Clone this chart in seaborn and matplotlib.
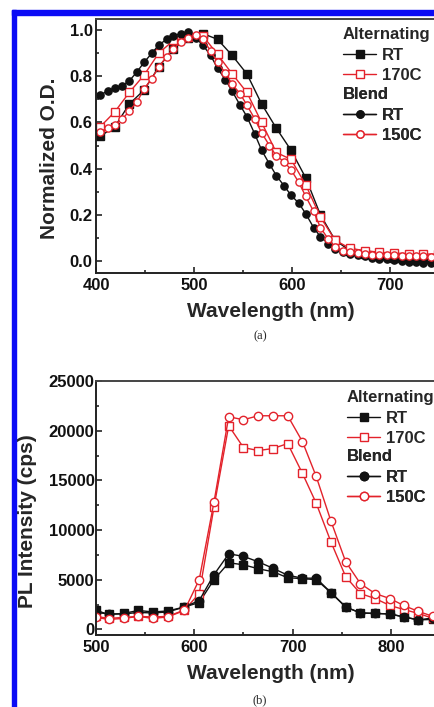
import numpy as np
import pandas as pd
import matplotlib
matplotlib.use("Agg")
import matplotlib.pyplot as plt
from matplotlib.patches import Rectangle
from matplotlib.ticker import MultipleLocator, FormatStrFormatter
import seaborn as sns

# ---------------- data: (a) absorption ----------------
abs_x_circ = [404, 412, 419, 427, 434, 442, 449, 457, 464, 472, 479, 487, 494, 502, 509,
              517, 524, 532, 539, 547, 554, 562, 569, 577, 584, 592, 599, 607, 614, 622,
              629, 637, 644, 652, 659, 667, 674, 682, 689, 697, 704, 712, 719, 727, 734,
              742, 749]
blend_rt_abs = [0.72, 0.735, 0.75, 0.76, 0.78, 0.82, 0.86, 0.90, 0.935, 0.96, 0.975, 0.985,
                0.99, 0.965, 0.935, 0.89, 0.835, 0.785, 0.735, 0.675, 0.625, 0.55, 0.48,
                0.42, 0.37, 0.325, 0.285, 0.25, 0.205, 0.145, 0.105, 0.075, 0.05, 0.038,
                0.03, 0.025, 0.02, 0.015, 0.01, 0.008, 0.005, 0.0, -0.003, -0.005, -0.008,
                -0.01, -0.01]
blend_150_abs = [0.56, 0.575, 0.59, 0.615, 0.65, 0.69, 0.745, 0.79, 0.84, 0.885, 0.92, 0.95,
                 0.965, 0.98, 0.96, 0.91, 0.86, 0.815, 0.765, 0.725, 0.675, 0.615, 0.555,
                 0.50, 0.455, 0.43, 0.395, 0.34, 0.28, 0.215, 0.145, 0.095, 0.06, 0.045,
                 0.038, 0.033, 0.03, 0.028, 0.026, 0.025, 0.024, 0.022, 0.02, 0.02, 0.02,
                 0.018, 0.018]
abs_x_sq = [404, 419, 434, 449, 464, 479, 494, 509, 524, 539, 554, 569, 584, 599, 614, 629,
            644, 659, 674, 689, 704, 719, 734, 749]
alt_rt_abs = [0.54, 0.58, 0.68, 0.74, 0.84, 0.92, 0.965, 0.985, 0.96, 0.89, 0.81, 0.68,
              0.575, 0.48, 0.36, 0.20, 0.09, 0.045, 0.03, 0.02, 0.015, 0.012, 0.01, 0.01]
alt_170_abs = [0.58, 0.645, 0.73, 0.805, 0.90, 0.955, 0.97, 0.975, 0.895, 0.81, 0.73, 0.60,
               0.47, 0.44, 0.33, 0.19, 0.09, 0.055, 0.045, 0.038, 0.034, 0.032, 0.03, 0.03]

# ---------------- data: (b) photoluminescence ----------------
pl_x = [500, 513, 528, 543, 558, 573, 590, 605, 620, 635, 650, 665, 680, 695, 710, 724,
        739, 754, 769, 784, 799, 813, 828, 843]
alt_rt_pl = [1900, 1500, 1600, 1900, 1750, 1850, 2250, 2700, 5000, 6700, 6500, 6100, 5800,
             5200, 5100, 5000, 3700, 2250, 1650, 1600, 1550, 1250, 950, 1000]
blend_rt_pl = [1700, 1550, 1550, 1700, 1650, 1750, 2250, 2900, 5500, 7600, 7350, 6800, 6150,
               5450, 5150, 5150, 3700, 2250, 1650, 1600, 1550, 1250, 950, 1150]
alt_170_pl = [1300, 1100, 1200, 1300, 1250, 1300, 1950, 3600, 12300, 20500, 18300, 18000,
              18200, 18700, 15700, 12700, 8800, 5300, 3600, 3100, 2400, 2000, 1600, 1100]
blend_150_pl = [1200, 1000, 1100, 1300, 1100, 1250, 1900, 5000, 12800, 21400, 21100, 21500,
                21500, 21500, 18900, 15400, 10900, 6800, 4600, 3600, 3100, 2400, 1800, 1300]

legend_groups = ["Alternating", "Blend"]
alt_labels = ["RT", "170C"]
blend_labels = ["RT", "150C"]

# ---------------- style ----------------
sns.set_style("ticks")
plt.rcParams["font.family"] = ["Liberation Sans", "DejaVu Sans"]
plt.rcParams["font.weight"] = "bold"
plt.rcParams["axes.labelweight"] = "bold"

RED = "#e3222b"
BLK = "#111111"
W, H = 435, 707

fig = plt.figure(figsize=(W / 100, H / 100), dpi=100)
fig.patch.set_facecolor("white")

# blue frame (figure decoration)
fig.patches.append(Rectangle((12 / W, 0), 4.5 / W, (H - 10) / H, transform=fig.transFigure,
                             color="#0b0bf5", zorder=0))
fig.patches.append(Rectangle((12 / W, 1 - 15 / H), (W - 12) / W, 5 / H,
                             transform=fig.transFigure, color="#0b0bf5", zorder=0))


def px_axes(left, top, width, height):
    return fig.add_axes([left / W, 1 - (top + height) / H, width / W, height / H])


def style_axes(ax):
    for s in ax.spines.values():
        s.set_linewidth(1.4)
        s.set_color("#222222")
    ax.spines["top"].set_color("#444444")
    ax.tick_params(which="both", direction="in", width=1.1, labelsize=12, colors="#111111")
    ax.tick_params(which="major", length=4.5)
    ax.tick_params(which="minor", length=2.5)
    ax.tick_params(axis="y", pad=2.5)
    ax.tick_params(axis="x", pad=3.5)
    ax.set_facecolor("white")


line_kw = dict(linewidth=1.0, markeredgewidth=1.0)


def draw(ax, x, y, color, marker, filled, ms, label):
    sns.lineplot(x=x, y=y, ax=ax, color=color, marker=marker, markersize=ms,
                 markerfacecolor=(color if filled else "white"), markeredgecolor=color,
                 label=label, legend=False, **line_kw)


# ---------------- panel (a) ----------------
wa = 0.98 * 350
axa = px_axes(96, 19, wa, 254)
style_axes(axa)
ms_a = 5.2
draw(axa, abs_x_sq, alt_rt_abs, BLK, "s", True, ms_a, alt_labels[0])
draw(axa, abs_x_sq, alt_170_abs, RED, "s", False, ms_a, alt_labels[1])
draw(axa, abs_x_circ, blend_rt_abs, BLK, "o", True, ms_a, blend_labels[0])
draw(axa, abs_x_circ, blend_150_abs, RED, "o", False, ms_a, blend_labels[1])
axa.set_xlim(400, 750)
axa.set_ylim(-0.052, 1.048)
axa.xaxis.set_major_locator(MultipleLocator(100))
axa.xaxis.set_minor_locator(MultipleLocator(50))
axa.yaxis.set_major_locator(MultipleLocator(0.2))
axa.yaxis.set_minor_locator(MultipleLocator(0.1))
axa.yaxis.set_major_formatter(FormatStrFormatter("%.1f"))
axa.set_xlabel("Wavelength (nm)", fontsize=15)
axa.set_ylabel("Normalized O.D.", fontsize=15)
axa.xaxis.set_label_coords((271 - 96) / wa, -(302 - 273) / 254)
axa.yaxis.set_label_coords(-(96 - 59) / wa, 0.45)

# ---------------- panel (b) ----------------
wb = 0.983 * 350
axb = px_axes(96, 381, wb, 254)
style_axes(axb)
axb.tick_params(axis="y", pad=1)
ms_b = 6.0
draw(axb, pl_x, alt_rt_pl, BLK, "s", True, ms_b, alt_labels[0])
draw(axb, pl_x, alt_170_pl, RED, "s", False, ms_b, alt_labels[1])
draw(axb, pl_x, blend_rt_pl, BLK, "o", True, ms_b, blend_labels[0])
draw(axb, pl_x, blend_150_pl, RED, "o", False, ms_b, blend_labels[1])
axb.set_xlim(500, 850)
axb.set_ylim(-570, 25000)
axb.xaxis.set_major_locator(MultipleLocator(100))
axb.xaxis.set_minor_locator(MultipleLocator(50))
axb.yaxis.set_major_locator(MultipleLocator(5000))
axb.yaxis.set_minor_locator(MultipleLocator(2500))
axb.set_xlabel("Wavelength (nm)", fontsize=15)
axb.set_ylabel("PL Intensity (cps)", fontsize=15)
axb.xaxis.set_label_coords((271 - 96) / wb, -(664 - 635) / 254)
axb.yaxis.set_label_coords(-(96 - 37) / wb, 0.45)

# ---------------- legends ----------------
prop = {"family": "Liberation Sans", "weight": "bold", "size": 12}


def add_legends(ax, x0, y0, dy):
    h = ax.get_lines()
    leg_kw = dict(loc="upper left", bbox_transform=fig.transFigure, frameon=False,
                  alignment="left", borderpad=0, borderaxespad=0, handlelength=2.0,
                  handletextpad=0.35, labelspacing=0.3, prop=prop, title_fontproperties=prop)
    l1 = ax.legend(h[:2], alt_labels, title=legend_groups[0],
                   bbox_to_anchor=(x0 / W, 1 - y0 / H), **leg_kw)
    l1._legend_box.sep = 4
    ax.add_artist(l1)
    l2 = ax.legend(h[2:4], blend_labels, title=legend_groups[1],
                   bbox_to_anchor=(x0 / W, 1 - (y0 + dy) / H), **leg_kw)
    l2._legend_box.sep = 4
    ax.add_artist(l2)


add_legends(axa, 343, 27, 60)
add_legends(axb, 347, 390, 59)

fig.text(260 / W, 1 - 336 / H, "(a)", ha="center", va="center", fontsize=9,
         family="Liberation Serif", weight="normal")
fig.text(260 / W, 1 - 700 / H, "(b)", ha="center", va="center", fontsize=9,
         family="Liberation Serif", weight="normal")

fig.savefig("out.png", dpi=100, facecolor="white")
